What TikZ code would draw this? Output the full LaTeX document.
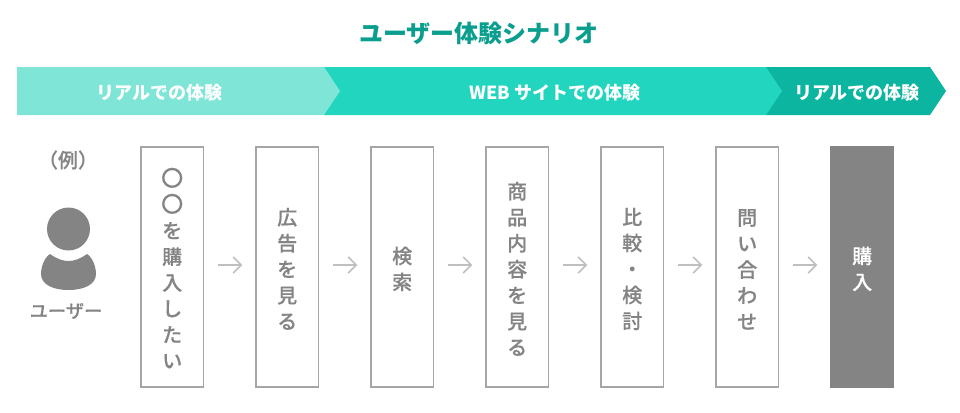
\documentclass[tikz,border=0pt]{standalone}
\usepackage{fontspec}
\setmainfont{Noto Sans CJK JP}
\newfontfamily\stepfont{Noto Sans CJK JP Medium}[FakeBold=0.3]
\usepackage{xcolor}
\usetikzlibrary{positioning,arrows.meta}

\definecolor{titlegreen}{HTML}{0A9E8E}
\definecolor{bandlight}{HTML}{7FE6D7}
\definecolor{bandmid}{HTML}{22D5BE}
\definecolor{banddark}{HTML}{0BB5A0}
\definecolor{stepgray}{HTML}{848484}
\definecolor{boxline}{HTML}{A6A6A6}
\definecolor{lightline}{HTML}{BFBFBF}

% first line a little taller, so the column sits lower in its box
\newcommand{\lowstart}{\rule{0pt}{15.5pt}}
\newcommand{\maru}{\scalebox{1.1}{〇}}

\begin{document}
\begin{tikzpicture}[x=0.75pt,y=-0.75pt,node distance=38.35pt,thick]

  \tikzstyle{stepbox}=[rectangle,draw=boxline,line width=1.1pt,fill=white,text=stepgray,
    minimum width=46.8pt,minimum height=180pt,inner sep=0pt,align=center,
    font=\fontsize{15}{19.5}\stepfont]
  \tikzstyle{buybox}=[stepbox,draw=stepgray,fill=stepgray,text=white]
  \tikzstyle{bandtext}=[text=white,font=\fontsize{13.5}{16}\selectfont\bfseries]
  \tikzstyle{usertext}=[text=stepgray,font=\fontsize{13.7}{16}\stepfont]
  \tikzstyle{flow}=[-{Straight Barb[length=6pt,width=12pt]},draw=lightline,line width=1.1pt,
    shorten <=10.5pt,shorten >=9.75pt]

  \useasboundingbox (0,0) rectangle (960,412);

  % title
  \node[text=titlegreen,font=\fontsize{18}{22}\selectfont\bfseries] (title) at (479,33) {ユーザー体験シナリオ};

  % band
  \fill[banddark] (766,67) -- (930,67) -- (946,91) -- (930,115) -- (766,115) -- cycle;
  \fill[bandmid] (324,67) -- (766,67) -- (782,91) -- (766,115) -- (324,115) -- cycle;
  \fill[bandlight] (17,67) -- (324,67) -- (340,91) -- (324,115) -- (17,115) -- cycle;
  \node[bandtext] (real1) at (159.5,93) {リアルでの体験};
  \node[bandtext] (web) at (555,93) {WEB サイトでの体験};
  \node[bandtext] (real2) at (857,93) {リアルでの体験};

  % user
  \node[usertext,font=\fontsize{15}{16}\stepfont] (example) at (68,160) {（例）};
  \fill[stepgray] (68.5,229) circle (21.5);
  \fill[stepgray] (50,254) .. controls (57,259) and (63,261) .. (68.5,261)
    .. controls (74,261) and (80,259) .. (87,254)
    .. controls (92,257) and (96,266) .. (96,274)
    .. controls (96,285) and (83,290) .. (68.5,290)
    .. controls (54,290) and (41,285) .. (41,274)
    .. controls (41,266) and (45,257) .. (50,254) -- cycle;
  \node[usertext] (user) at (66,311) {ユーザー};

  % steps
  \node[stepbox] (want) at (172.2,267) {\lowstart\maru\\\maru\\を\\購\\入\\し\\た\\い};
  \node[stepbox] (ad) [right=of want] {\lowstart 広\\告\\を\\見\\る};
  \node[stepbox] (search) [right=of ad] {\lowstart 検\\索};
  \node[stepbox] (item) [right=of search] {\lowstart 商\\品\\内\\容\\を\\見\\る};
  \node[stepbox] (compare) [right=of item] {\lowstart 比\\較\\・\\検\\討};
  \node[stepbox] (ask) [right=of compare] {\lowstart 問\\い\\合\\わ\\せ};
  \node[buybox] (buy) [right=of ask] {\lowstart 購\\入};

  % arrows
  \foreach \a/\b in {want/ad,ad/search,search/item,item/compare,compare/ask,ask/buy}
    \draw[flow] ([yshift=1.5pt]\a.east) -- ([yshift=1.5pt]\b.west);

\end{tikzpicture}
\end{document}
